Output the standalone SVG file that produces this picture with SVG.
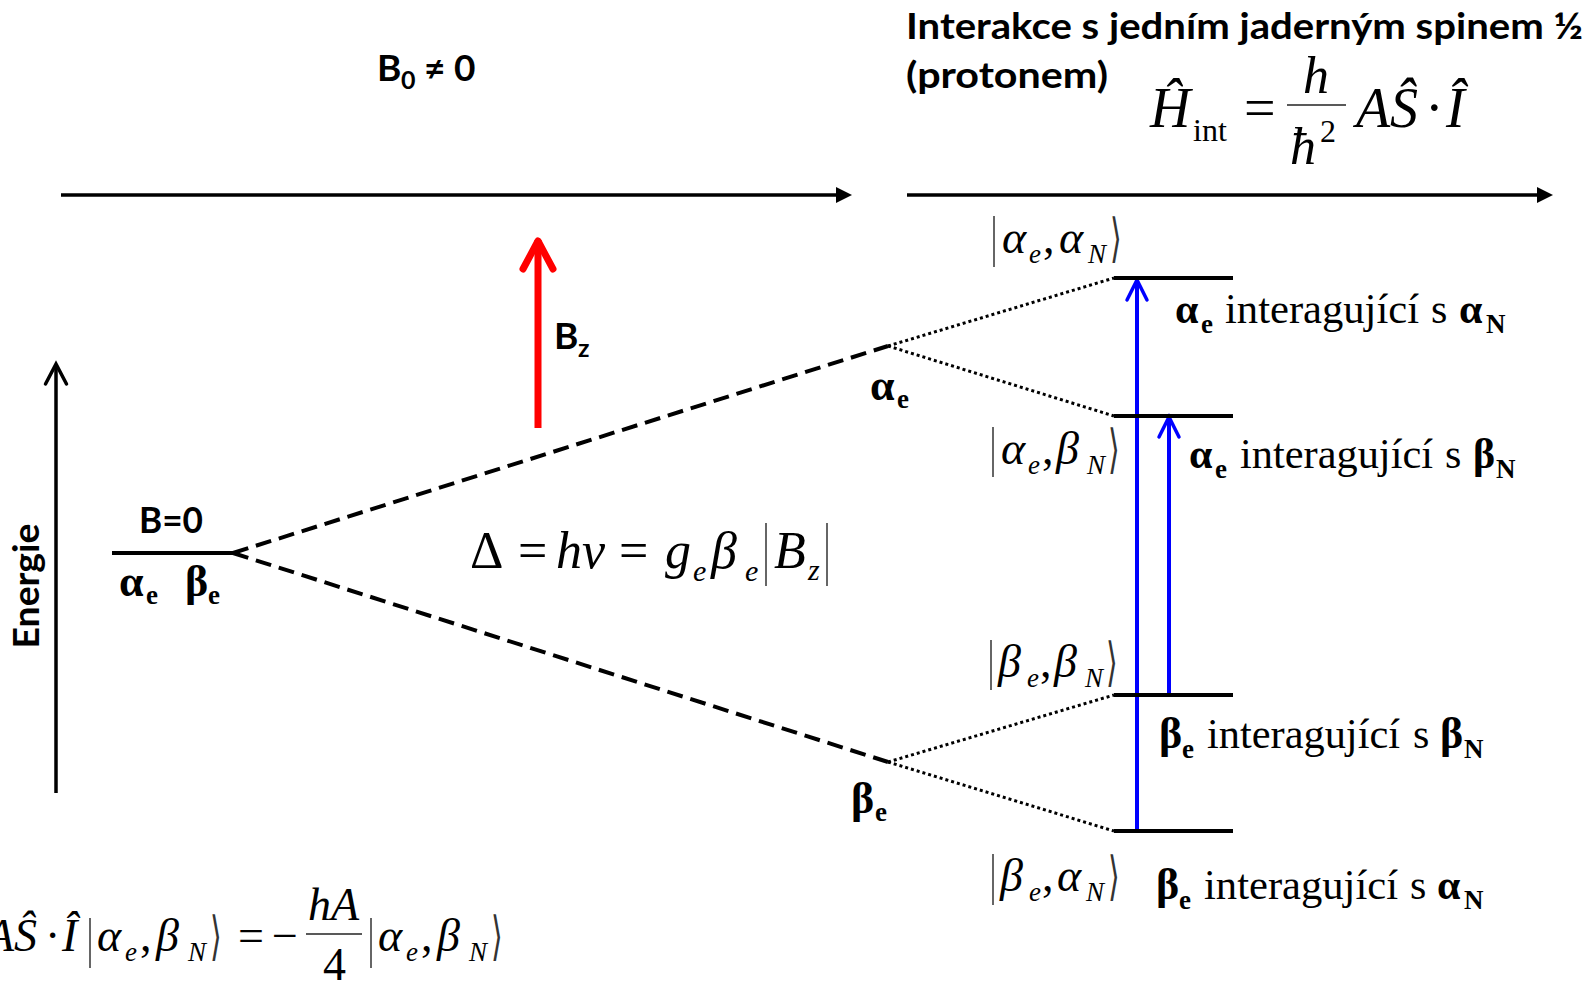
<svg xmlns="http://www.w3.org/2000/svg" width="1591" height="987" viewBox="0 0 1591 987">
<style>
.sb{font-family:Lato,"Open Sans","Liberation Sans",sans-serif;font-weight:700;fill:#000}
.tm{font-family:"Liberation Serif","Times New Roman",serif;fill:#000}
.it{font-style:italic}
.bd{font-weight:700}
.ang{font-family:"DejaVu Serif","DejaVu Sans",serif;font-size:50px;fill:#333}
.bar{stroke:#333;stroke-width:1.5}
.axis{stroke:#000;stroke-width:3.5;fill:none}
.lvl{stroke:#000;stroke-width:4}
.dash{stroke:#000;stroke-width:4;stroke-dasharray:16 8;fill:none}
.dot{stroke:#000;stroke-width:3;stroke-dasharray:3 3;fill:none}
.blue{stroke:#0000ff;stroke-width:4;fill:none}
.red{stroke:#ff0000;stroke-width:7;fill:none}
</style>
<defs>
<marker id="tri" markerUnits="userSpaceOnUse" viewBox="0 -8 16 16" markerWidth="16" markerHeight="16" refX="0" refY="0" orient="auto" overflow="visible"><path d="M0,-8 L16,0 L0,8 z" fill="#000"/></marker>
<marker id="chevK" markerUnits="userSpaceOnUse" viewBox="-24 -14 28 28" markerWidth="28" markerHeight="28" refX="0" refY="0" orient="auto" overflow="visible"><path d="M-20,-10.5 L0,0 L-20,10.5" fill="none" stroke="#000" stroke-width="3.5" stroke-linecap="round"/></marker>
<marker id="chevB" markerUnits="userSpaceOnUse" viewBox="-24 -14 28 28" markerWidth="28" markerHeight="28" refX="0" refY="0" orient="auto" overflow="visible"><path d="M-20,-10 L0,0 L-20,10" fill="none" stroke="#0000ff" stroke-width="3.5" stroke-linecap="round"/></marker>
<marker id="chevR" markerUnits="userSpaceOnUse" viewBox="-36 -20 40 40" markerWidth="40" markerHeight="40" refX="0" refY="0" orient="auto" overflow="visible"><path d="M-29,-15 L-1,0 L-29,15" fill="none" stroke="#ff0000" stroke-width="7" stroke-linecap="round" stroke-linejoin="round"/></marker>
</defs>

<g id="connectors">
<line x1="61" y1="195" x2="836" y2="195" class="axis" marker-end="url(#tri)"/>
<line x1="907" y1="195" x2="1537" y2="195" class="axis" marker-end="url(#tri)"/>
<line x1="56" y1="793" x2="56" y2="364" class="axis" marker-end="url(#chevK)"/>
<line x1="538" y1="428" x2="538" y2="240" class="red" marker-end="url(#chevR)"/>
<line x1="233" y1="553" x2="888" y2="346" class="dash"/>
<line x1="233" y1="553" x2="888" y2="762" class="dash"/>
<line x1="888" y1="346" x2="1114" y2="278" class="dot"/>
<line x1="888" y1="346" x2="1114" y2="416" class="dot"/>
<line x1="888" y1="762" x2="1114" y2="695" class="dot"/>
<line x1="888" y1="762" x2="1114" y2="831" class="dot"/>
<line x1="1137" y1="831" x2="1137" y2="280" class="blue" marker-end="url(#chevB)"/>
<line x1="1169" y1="695" x2="1169" y2="417" class="blue" marker-end="url(#chevB)"/>
</g>

<g id="title">
<text class="sb" font-size="37" x="906" y="39" textLength="677" lengthAdjust="spacingAndGlyphs">Interakce s jedním jaderným spinem ½</text>
<text class="sb" font-size="37" x="906" y="88" textLength="202" lengthAdjust="spacingAndGlyphs">(protonem)</text>
</g>

<g id="b0-label">
<text class="sb" font-size="37" x="377" y="81">B</text>
<text class="sb" font-size="25" x="401" y="89">0</text>
<text class="sb" font-size="37" x="424" y="81">≠</text>
<text class="sb" font-size="37" x="454" y="81">0</text>
</g>

<g id="hamiltonian">
<text class="tm it" font-size="56" x="1150" y="127">Ĥ</text>
<text class="tm" font-size="32" x="1193" y="141">int</text>
<text class="tm" font-size="56" x="1244" y="127">=</text>
<text class="tm it" font-size="52" x="1303" y="93">h</text>
<line x1="1287" y1="105" x2="1346" y2="105" stroke="#222" stroke-width="1.6"/>
<text class="tm it" font-size="52" x="1290" y="164">ħ</text>
<text class="tm" font-size="32" x="1320" y="142">2</text>
<text class="tm it" font-size="56" x="1356" y="127">A</text>
<text class="tm it" font-size="56" x="1390" y="127">Ŝ</text>
<text class="tm" font-size="56" x="1425" y="127">·</text>
<text class="tm it" font-size="56" x="1446" y="127">Î</text>
</g>

<g id="energy-axis-label">
<text class="sb" font-size="37" transform="translate(39,586) rotate(-90)" text-anchor="middle" textLength="125" lengthAdjust="spacingAndGlyphs">Energie</text>
</g>

<g id="level-b0">
<line x1="112" y1="553" x2="233" y2="553" class="lvl"/>
<text class="sb" font-size="37" x="139" y="533" textLength="64" lengthAdjust="spacingAndGlyphs">B=0</text>
<text class="tm bd" font-size="44" x="119" y="596">α</text>
<text class="tm bd" font-size="27" x="146" y="604">e</text>
<text class="tm bd" font-size="44" x="185" y="596">β</text>
<text class="tm bd" font-size="27" x="208" y="604">e</text>
</g>

<g id="bz-field">
<text class="sb" font-size="37" x="554" y="349">B</text>
<text class="sb" font-size="25" x="578" y="357">z</text>
</g>

<g id="split-alpha">
<text class="tm bd" font-size="44" x="870" y="400">α</text>
<text class="tm bd" font-size="27" x="897" y="408">e</text>
</g>
<g id="split-beta">
<text class="tm bd" font-size="44" x="851" y="813">β</text>
<text class="tm bd" font-size="27" x="875" y="821">e</text>
</g>

<g id="delta-formula">
<text class="tm" font-size="52" x="470" y="568">Δ</text>
<text class="tm" font-size="52" x="518" y="568">=</text>
<text class="tm it" font-size="52" x="556" y="568">hν</text>
<text class="tm" font-size="52" x="619" y="568">=</text>
<text class="tm it" font-size="52" x="665" y="568">g</text>
<text class="tm it" font-size="30" x="693" y="581">e</text>
<text class="tm it" font-size="52" x="711" y="568">β</text>
<text class="tm it" font-size="30" x="745" y="581">e</text>
<line x1="766" y1="523" x2="766" y2="586" class="bar"/>
<text class="tm it" font-size="52" x="774" y="568">B</text>
<text class="tm it" font-size="30" x="808" y="580">z</text>
<line x1="827" y1="523" x2="827" y2="586" class="bar"/>
</g>

<g id="level-aa">
<line x1="1114" y1="278" x2="1233" y2="278" class="lvl"/>
<line x1="994" y1="216" x2="994" y2="267" class="bar"/>
<text class="tm it" font-size="46" x="1002" y="253">α</text>
<text class="tm it" font-size="27" x="1029" y="263">e</text>
<text class="tm" font-size="46" x="1043" y="253">,</text>
<text class="tm it" font-size="46" x="1059" y="253">α</text>
<text class="tm it" font-size="27" x="1088" y="263">N</text>
<text class="ang" transform="translate(1110,256) scale(0.6,1.05)">⟩</text>
<text class="tm bd" font-size="42" x="1175" y="323">α</text>
<text class="tm bd" font-size="27" x="1201" y="333">e</text>
<text class="tm" font-size="42" x="1225" y="323" textLength="194" lengthAdjust="spacingAndGlyphs">interagující</text>
<text class="tm" font-size="42" x="1431" y="323">s</text>
<text class="tm bd" font-size="42" x="1459" y="323">α</text>
<text class="tm bd" font-size="27" x="1486" y="333">N</text>
</g>

<g id="level-ab">
<line x1="1114" y1="416" x2="1233" y2="416" class="lvl"/>
<line x1="993" y1="427" x2="993" y2="477" class="bar"/>
<text class="tm it" font-size="46" x="1001" y="464">α</text>
<text class="tm it" font-size="27" x="1028" y="474">e</text>
<text class="tm" font-size="46" x="1042" y="464">,</text>
<text class="tm it" font-size="46" x="1056" y="464">β</text>
<text class="tm it" font-size="27" x="1087" y="474">N</text>
<text class="ang" transform="translate(1108,467) scale(0.6,1.05)">⟩</text>
<text class="tm bd" font-size="42" x="1189" y="468">α</text>
<text class="tm bd" font-size="27" x="1215" y="478">e</text>
<text class="tm" font-size="42" x="1240" y="468" textLength="193" lengthAdjust="spacingAndGlyphs">interagující</text>
<text class="tm" font-size="42" x="1445" y="468">s</text>
<text class="tm bd" font-size="42" x="1473" y="468">β</text>
<text class="tm bd" font-size="27" x="1496" y="478">N</text>
</g>

<g id="level-bb">
<line x1="1114" y1="695" x2="1233" y2="695" class="lvl"/>
<line x1="991" y1="640" x2="991" y2="690" class="bar"/>
<text class="tm it" font-size="46" x="998" y="677">β</text>
<text class="tm it" font-size="27" x="1027" y="687">e</text>
<text class="tm" font-size="46" x="1040" y="677">,</text>
<text class="tm it" font-size="46" x="1054" y="677">β</text>
<text class="tm it" font-size="27" x="1085" y="687">N</text>
<text class="ang" transform="translate(1106,680) scale(0.6,1.05)">⟩</text>
<text class="tm bd" font-size="44" x="1159" y="748">β</text>
<text class="tm bd" font-size="27" x="1182" y="758">e</text>
<text class="tm" font-size="42" x="1207" y="748" textLength="193" lengthAdjust="spacingAndGlyphs">interagující</text>
<text class="tm" font-size="42" x="1413" y="748">s</text>
<text class="tm bd" font-size="44" x="1440" y="748">β</text>
<text class="tm bd" font-size="27" x="1464" y="758">N</text>
</g>

<g id="level-ba">
<line x1="1114" y1="831" x2="1233" y2="831" class="lvl"/>
<line x1="993" y1="854" x2="993" y2="905" class="bar"/>
<text class="tm it" font-size="46" x="1000" y="891">β</text>
<text class="tm it" font-size="27" x="1029" y="901">e</text>
<text class="tm" font-size="46" x="1042" y="891">,</text>
<text class="tm it" font-size="46" x="1057" y="891">α</text>
<text class="tm it" font-size="27" x="1086" y="901">N</text>
<text class="ang" transform="translate(1108,894) scale(0.6,1.05)">⟩</text>
<text class="tm bd" font-size="44" x="1156" y="899">β</text>
<text class="tm bd" font-size="27" x="1179" y="909">e</text>
<text class="tm" font-size="42" x="1204" y="899" textLength="194" lengthAdjust="spacingAndGlyphs">interagující</text>
<text class="tm" font-size="42" x="1410" y="899">s</text>
<text class="tm bd" font-size="42" x="1437" y="899">α</text>
<text class="tm bd" font-size="27" x="1464" y="909">N</text>
</g>

<g id="eigen-formula">
<text class="tm it" font-size="46" x="-14" y="951">A</text>
<text class="tm it" font-size="46" x="14" y="951">Ŝ</text>
<text class="tm" font-size="46" x="45" y="951">·</text>
<text class="tm it" font-size="46" x="62" y="951">Î</text>
<line x1="90" y1="918" x2="90" y2="968" class="bar"/>
<text class="tm it" font-size="46" x="97" y="951">α</text>
<text class="tm it" font-size="27" x="125" y="961">e</text>
<text class="tm" font-size="46" x="140" y="951">,</text>
<text class="tm it" font-size="46" x="156" y="951">β</text>
<text class="tm it" font-size="27" x="188" y="961">N</text>
<text class="ang" transform="translate(210,954) scale(0.6,1.05)">⟩</text>
<text class="tm" font-size="46" x="238" y="951">=</text>
<text class="tm" font-size="46" x="272" y="951">−</text>
<text class="tm it" font-size="46" x="308" y="920">hA</text>
<line x1="306" y1="934" x2="362" y2="934" stroke="#222" stroke-width="1.6"/>
<text class="tm" font-size="46" x="323" y="980">4</text>
<line x1="371" y1="918" x2="371" y2="968" class="bar"/>
<text class="tm it" font-size="46" x="378" y="951">α</text>
<text class="tm it" font-size="27" x="406" y="961">e</text>
<text class="tm" font-size="46" x="421" y="951">,</text>
<text class="tm it" font-size="46" x="437" y="951">β</text>
<text class="tm it" font-size="27" x="469" y="961">N</text>
<text class="ang" transform="translate(491,954) scale(0.6,1.05)">⟩</text>
</g>
</svg>
